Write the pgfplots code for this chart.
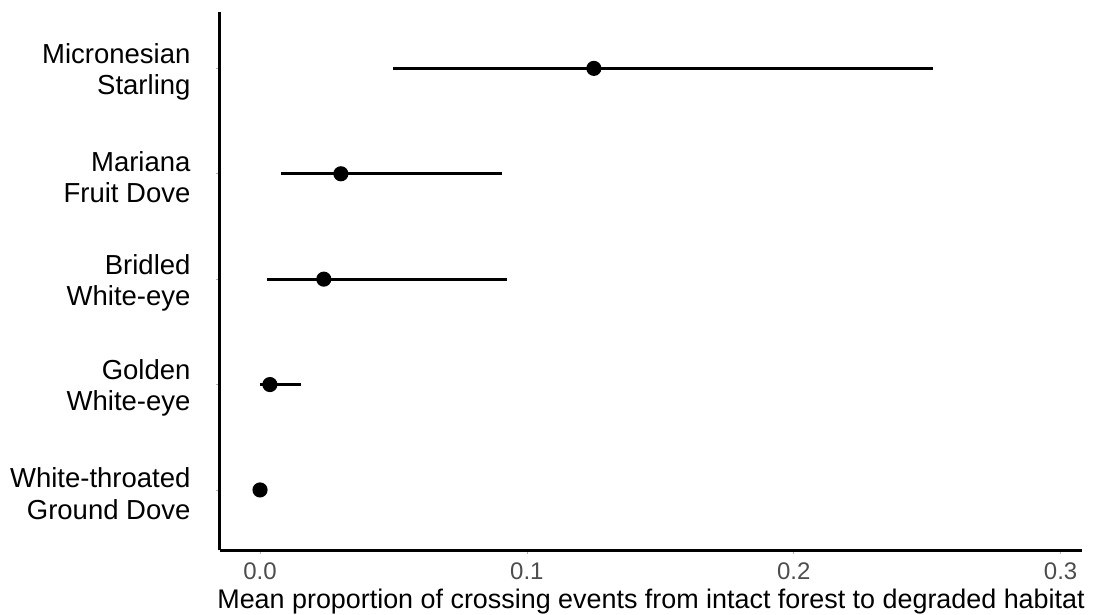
\documentclass[border=0pt]{standalone}
\usepackage{pgfplots}
\pgfplotsset{compat=1.18}
\usepackage{fontspec}
\setmainfont{Liberation Sans}
\definecolor{tickgrey}{HTML}{4D4D4D}
\begin{document}
\begin{tikzpicture}
\useasboundingbox (-220pt,-64pt) rectangle (890pt,550pt);
\begin{axis}[
  at={(0,0)}, anchor=south west,
  scale only axis,
  width=862pt, height=538pt,
  xmin=-0.015, xmax=0.308,
  ymin=0.43, ymax=5.535,
  axis lines*=left,
  axis line style={-, line width=3pt, black},
  xtick={0,0.1,0.2,0.3},
  xticklabels={0.0,0.1,0.2,0.3},
  ytick={1,2,3,4,5},
  yticklabels={{White-throated\\Ground Dove},{Golden\\White-eye},{Bridled\\White-eye},{Mariana\\Fruit Dove},{Micronesian\\Starling}},
  tick align=outside,
  major tick length=4pt,
  tick style={gray!60, line width=0.8pt},
  xticklabel style={font=\fontsize{24}{28}\selectfont, text=tickgrey, anchor=base, yshift=-25pt},
  yticklabel style={font=\fontsize{27.5}{31.5}\selectfont, text=black, align=right, xshift=-22pt, yshift=-3.5pt},
  /pgf/number format/assume math mode=true,
  xlabel={Mean proportion of crossing events from intact forest to degraded habitat},
  xlabel style={font=\fontsize{26.9}{30}\selectfont, at={(axis description cs:0.5,0)}, anchor=base, yshift=-58pt},
  clip=false,
]
\addplot[black, line width=2.7pt, mark=*, mark size=6.2pt, only marks,
  error bars/.cd, x dir=both, x explicit, error mark=none,
  error bar style={line width=2.7pt, black}]
  table[x=x, y=y, x error plus expr=\thisrow{hi}-\thisrow{x}, x error minus expr=\thisrow{x}-\thisrow{lo}] {
  x y lo hi
  0.0000 1 0.0000 0.0000
  0.0037 2 0.0000 0.0152
  0.0239 3 0.0025 0.0924
  0.0303 4 0.0077 0.0905
  0.1251 5 0.0499 0.2522
};
\end{axis}
\end{tikzpicture}
\end{document}
